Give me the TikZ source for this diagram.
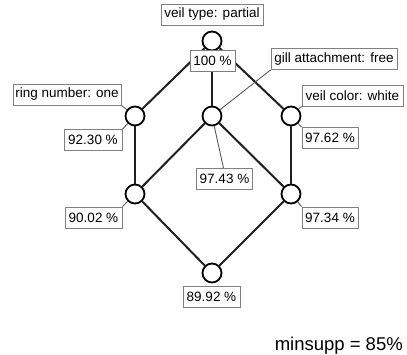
\documentclass[tikz,border=0pt]{standalone}
\usepackage{fontspec}
\setmainfont{Liberation Sans}
\begin{document}
\begin{tikzpicture}[x=1pt,y=-1pt,
  vtx/.style={circle, draw=black, fill=white, line width=1.8pt, minimum size=19pt, inner sep=0pt},
  edge/.style={line width=2pt, draw=black!88},
  lbl/.style={rectangle, draw=black!50, line width=0.9pt, fill=white, text=black,
              font=\fontsize{13.5}{16}\selectfont, minimum height=21pt, inner sep=0pt},
  lead/.style={draw=black!65, line width=0.9pt}]
\useasboundingbox (0,0) rectangle (407,354);

% lattice vertices
\node[vtx] (T)  at (212,41)  {};
\node[vtx] (L)  at (135,116) {};
\node[vtx] (M)  at (212,116) {};
\node[vtx] (R)  at (291,116) {};
\node[vtx] (LB) at (135,194) {};
\node[vtx] (RB) at (291,194) {};
\node[vtx] (B)  at (212,273) {};

% lattice edges (they stop at the vertex borders)
\draw[edge] (T) -- (L);
\draw[edge] (T) -- (M);
\draw[edge] (T) -- (R);
\draw[edge] (L) -- (LB);
\draw[edge] (M) -- (LB);
\draw[edge] (M) -- (RB);
\draw[edge] (R) -- (RB);
\draw[edge] (LB) -- (B);
\draw[edge] (RB) -- (B);

% attribute and support labels
\node[lbl, minimum width=102pt] (vtype) at (212,14.5)  {veil type: partial};
\node[lbl, minimum width=45pt]  (s100)  at (212.5,61)  {100 \%};
\node[lbl, minimum width=126pt] (gill)  at (334,59)    {gill attachment: free};
\node[lbl, minimum width=108pt] (ring)  at (67,94.5)   {ring number: one};
\node[lbl, minimum width=101pt] (vcol)  at (352.5,95.5){veil color: white};
\node[lbl, minimum width=58pt]  (s9230) at (93,140)    {92.30 \%};
\node[lbl, minimum width=56pt]  (s9762) at (330,138)   {97.62 \%};
\node[lbl, minimum width=56pt]  (s9743) at (224.5,179) {97.43 \%};
\node[lbl, minimum width=57pt]  (s9002) at (93.5,217.5){90.02 \%};
\node[lbl, minimum width=56pt]  (s9734) at (330,217.5) {97.34 \%};
\node[lbl, minimum width=57pt]  (s8992) at (211.5,296.5){89.92 \%};

% leader lines from labels to vertices
\draw[lead] (gill.south west) -- (M);
\draw[lead] ([xshift=-1pt]s9743.north) -- (M);
\draw[lead] (ring.south east) -- (L);
\draw[lead] (s9230.north east) -- (L);
\draw[lead] (vcol.south west) -- (R);
\draw[lead] (s9762.north west) -- (R);
\draw[lead] (s9002.north east) -- (LB);
\draw[lead] (s9734.north west) -- (RB);

% threshold note
\node[anchor=base east, inner sep=0pt, font=\fontsize{18.5}{22}\selectfont] (minsupp) at (403,350) {minsupp = 85\%};
\end{tikzpicture}
\end{document}
